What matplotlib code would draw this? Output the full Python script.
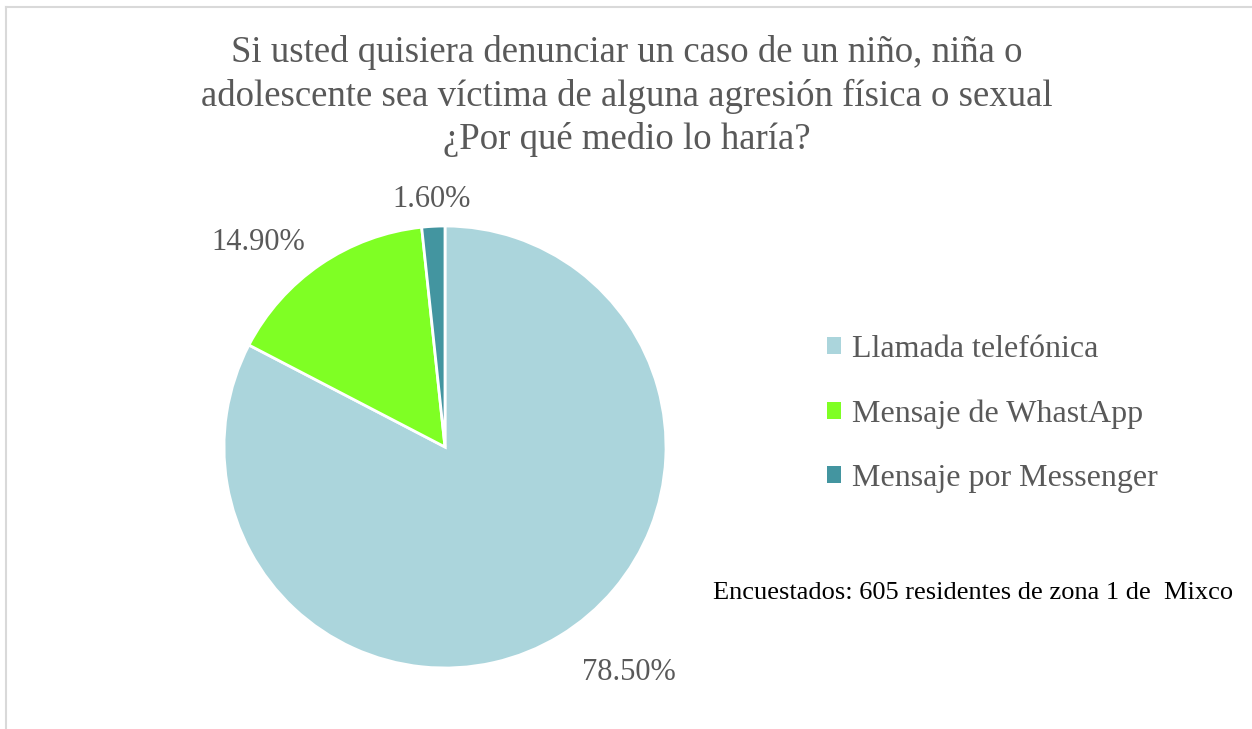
import matplotlib.pyplot as plt
from matplotlib.patches import Patch
from matplotlib.lines import Line2D

# Survey answers (percent of respondents)
categories = ["Llamada telefónica", "Mensaje de WhastApp", "Mensaje por Messenger"]
values = [78.5, 14.9, 1.6]
colors = ["#ABD5DC", "#7FFF24", "#4395A0"]

title = ("Si usted quisiera denunciar un caso de un niño, niña o\n"
         "adolescente sea víctima de alguna agresión física o sexual\n"
         "¿Por qué medio lo haría?")
note = "Encuestados: 605 residentes de zona 1 de  Mixco"

plt.rcParams["font.family"] = ["Liberation Serif", "DejaVu Serif"]
GRAY = "#595959"

W, H = 1252, 729
fig = plt.figure(figsize=(W / 100, H / 100), dpi=100)

# light frame, top and left edges visible
fig.add_artist(Line2D([6 / W, 6 / W], [0, 1 - 7 / H], color="#D9D9D9", lw=1.5))
fig.add_artist(Line2D([6 / W, 1], [1 - 7 / H, 1 - 7 / H], color="#D9D9D9", lw=1.5))

cx, cy, r = 445, 447, 221
ax = fig.add_axes([(cx - r) / W, (H - cy - r) / H, 2 * r / W, 2 * r / H])
wedges, texts = ax.pie(values, colors=colors, startangle=90, counterclock=False,
                       labels=[f"{v:.2f}%" for v in values], labeldistance=1.18,
                       wedgeprops=dict(edgecolor="white", linewidth=2),
                       textprops=dict(color=GRAY, fontsize=22))
# nudge labels to Excel-like outside-end spots
for t, d in zip(texts, [1.195, 1.12, 1.12]):
    x, y = t.get_position()
    t.set_position((x * d / 1.18, y * d / 1.18))
texts[2].set_ha("center")
ax.set_xlim(-1, 1)
ax.set_ylim(-1, 1)
ax.set_aspect("equal")

fig.text(627 / W, 1 - 35 / H, title, ha="center", va="top", fontsize=26.5,
         color=GRAY, linespacing=1.31)

handles = [Patch(facecolor=c, edgecolor="none") for c in colors]
fig.legend(handles, categories, loc="center left",
           bbox_to_anchor=(798 / W, 1 - 414 / H), frameon=False,
           fontsize=23, labelcolor=GRAY, handlelength=0.45, handleheight=0.45,
           handletextpad=0.35, labelspacing=1.1)

fig.text(713 / W, 1 - 593 / H, note, ha="left", va="center", fontsize=19,
         color="black")

fig.savefig("out.png", dpi=100)
